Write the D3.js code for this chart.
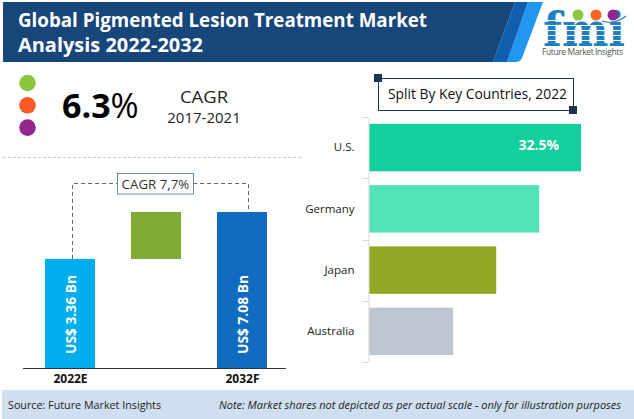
<!DOCTYPE html>
<html>
<head>
<meta charset="utf-8">
<script src="https://cdn.jsdelivr.net/npm/d3@7"></script>
<style>
  html, body { margin: 0; padding: 0; background: #fff; }
  svg { display: block; }
  text { font-family: 'Open Sans', sans-serif; }
</style>
</head>
<body>
<script>
const titleLines = ['Global Pigmented Lesion Treatment Market', 'Analysis 2022-2032'];
const titleLengths = [409, 185];

// market size bars, heights (not to scale with the labels)
const marketYears = ['2022E', '2032F'];
const marketHeights = [4.95, 7.08];
const marketLabels = ['US$ 3.36 Bn', 'US$ 7.08 Bn'];
const marketColors = ['#00aeef', '#0f6cc0'];

// countries split
const countries = ['U.S.', 'Germany', 'Japan', 'Australia'];
const countryShares = [32.5, 26.1, 19.5, 12.9];
const countryColors = ['#12d09b', '#54e2b7', '#90a823', '#bfc6d2'];

const dotColors = ['#8cc63f', '#ff5a26', '#93278f'];

const width = 634;
const height = 419;

const svg = d3.select('body').append('svg')
  .attr('width', width)
  .attr('height', height);

// HEADER
svg.append('path').attr('d', 'M528,2 L543,2 L522,58 Q520,62 516,62 L507,62 Z').attr('fill', '#2196ee');
svg.append('path').attr('d', 'M515,2 L528,2 L507,62 L493,62 Z').attr('fill', '#0f5fae');
svg.append('path').attr('d', 'M3,2 L515,2 L493,62 L3,62 Z').attr('fill', '#17467a');

svg.selectAll('.title')
  .data(titleLines)
  .enter()
  .append('text')
  .attr('class', 'title')
  .attr('x', 18)
  .attr('y', (d, i) => 27 + i * 24.5)
  .attr('fill', '#fff')
  .attr('font-size', 19.5)
  .attr('font-weight', 700)
  .attr('textLength', (d, i) => titleLengths[i])
  .attr('lengthAdjust', 'spacingAndGlyphs')
  .text(d => d);

// LOGO
const logo = svg.append('g');
logo.append('text')
  .attr('x', 543)
  .attr('y', 46)
  .attr('fill', '#1f7fc0')
  .attr('font-size', 46)
  .attr('font-weight', 700)
  .attr('textLength', 82)
  .attr('lengthAdjust', 'spacingAndGlyphs')
  .style('font-family', "'DejaVu Serif', serif")
  .text('fmi');
[20, 25, 30, 35, 40].forEach(y => {
  logo.append('rect').attr('x', 540).attr('y', y).attr('width', 90).attr('height', 1).attr('fill', '#fff');
});
logo.append('path')
  .attr('d', 'M602,21 Q615,25 626,16')
  .attr('fill', 'none')
  .attr('stroke', '#1f7fc0')
  .attr('stroke-width', 1.2);
[[578, '#8cc63f'], [596, '#f26522'], [613, '#93278f']].forEach(d => {
  logo.append('circle').attr('cx', d[0]).attr('cy', 15).attr('r', 5.5).attr('fill', d[1]);
});
logo.append('text')
  .attr('x', 542)
  .attr('y', 55)
  .attr('fill', '#555')
  .attr('font-size', 8.5)
  .attr('textLength', 81)
  .text('Future Market Insights');

// CAGR BLOCK
svg.selectAll('.dot')
  .data(dotColors)
  .enter()
  .append('circle')
  .attr('class', 'dot')
  .attr('cx', 27.5)
  .attr('cy', (d, i) => 83 + i * 22.3)
  .attr('r', 8.3)
  .attr('fill', d => d);

const bigNumber = svg.append('text')
  .attr('x', 62)
  .attr('y', 118)
  .attr('font-size', 34)
  .attr('font-weight', 700)
  .attr('fill', '#000');
bigNumber.append('tspan').text('6.3');
bigNumber.append('tspan').attr('font-weight', 400).text('%');

svg.append('text').attr('x', 204).attr('y', 103).attr('text-anchor', 'middle')
  .attr('font-size', 17).attr('fill', '#222')
  .attr('textLength', 48).attr('lengthAdjust', 'spacingAndGlyphs').text('CAGR');
svg.append('text').attr('x', 204).attr('y', 123).attr('text-anchor', 'middle')
  .attr('font-size', 15).attr('fill', '#222').text('2017-2021');

svg.append('line')
  .attr('x1', 3).attr('x2', 303).attr('y1', 157.5).attr('y2', 157.5)
  .attr('stroke', '#ccc').attr('stroke-dasharray', '3,2');

// LEFT CHART
const xMarket = d3.scalePoint().domain(marketYears).range([70, 242]);
const yMarket = d3.scaleLinear().domain([0, 7.08]).range([368, 212]);
const barW = 50;

svg.selectAll('.market')
  .data(marketHeights)
  .enter()
  .append('rect')
  .attr('class', 'market')
  .attr('x', (d, i) => xMarket(marketYears[i]) - barW / 2)
  .attr('y', d => yMarket(d))
  .attr('width', barW)
  .attr('height', d => yMarket(0) - yMarket(d))
  .attr('fill', (d, i) => marketColors[i]);

// floating difference block between the two bars
svg.append('rect')
  .attr('x', (xMarket(marketYears[0]) + xMarket(marketYears[1])) / 2 - barW / 2)
  .attr('y', yMarket(marketHeights[1]))
  .attr('width', barW)
  .attr('height', yMarket(marketHeights[0]) - yMarket(marketHeights[1]))
  .attr('fill', '#7faa33');

svg.selectAll('.marketLabel')
  .data(marketLabels)
  .enter()
  .append('text')
  .attr('class', 'marketLabel')
  .attr('transform', (d, i) => `translate(${xMarket(marketYears[i]) + 6},354) rotate(-90)`)
  .attr('fill', '#fff')
  .attr('font-size', 14.5)
  .attr('font-weight', 700)
  .attr('textLength', 79)
  .attr('lengthAdjust', 'spacingAndGlyphs')
  .text(d => d);

const xAxisMarket = d3.axisBottom(xMarket).tickSize(0).tickPadding(6);
const gMarket = svg.append('g')
  .attr('transform', 'translate(0,368.5)')
  .call(xAxisMarket);
gMarket.select('.domain').attr('d', 'M23,0H286').attr('stroke', '#333').attr('stroke-width', 1);
gMarket.selectAll('text')
  .attr('font-size', 12)
  .attr('font-weight', 700)
  .attr('fill', '#111')
  .style('font-family', "'Open Sans', sans-serif");

// dashed connector
const connX = [xMarket(marketYears[0]) + 2.5, xMarket(marketYears[1]) + 6.5];
svg.append('path')
  .attr('d', `M${connX[0]},${yMarket(marketHeights[0])}V183.5H${connX[1]}V${yMarket(marketHeights[1])}`)
  .attr('fill', 'none')
  .attr('stroke', '#666')
  .attr('stroke-dasharray', '4,3');

svg.append('rect')
  .attr('x', 117.5).attr('y', 173.5).attr('width', 76).attr('height', 20.5)
  .attr('fill', '#fff').attr('stroke', '#6a93ad');
svg.append('text')
  .attr('x', 155.5).attr('y', 188.5).attr('text-anchor', 'middle')
  .attr('font-size', 13.3).attr('fill', '#333').text('CAGR 7,7%');

// RIGHT CHART
svg.append('rect')
  .attr('x', 378.5).attr('y', 78.5).attr('width', 195).attr('height', 32)
  .attr('fill', '#fff').attr('stroke', '#1d3550');
svg.append('rect').attr('x', 374).attr('y', 74).attr('width', 8).attr('height', 8).attr('fill', '#1d3550');
svg.append('rect').attr('x', 569).attr('y', 106).attr('width', 8).attr('height', 8).attr('fill', '#1d3550');
svg.append('text')
  .attr('x', 388).attr('y', 99)
  .attr('font-size', 14).attr('fill', '#111')
  .attr('textLength', 179).attr('lengthAdjust', 'spacingAndGlyphs')
  .text('Split By Key Countries, 2022');

const xCountry = d3.scaleLinear().domain([0, 32.5]).range([369, 581]);
const yCountry = d3.scaleBand().domain(countries).range([117, 362]).paddingInner(0.225).paddingOuter(0.1125);

svg.selectAll('.country')
  .data(countryShares)
  .enter()
  .append('rect')
  .attr('class', 'country')
  .attr('x', xCountry(0))
  .attr('y', (d, i) => yCountry(countries[i]))
  .attr('width', d => xCountry(d) - xCountry(0))
  .attr('height', yCountry.bandwidth())
  .attr('fill', (d, i) => countryColors[i]);

const yAxisCountry = d3.axisLeft(yCountry).tickSize(0).tickPadding(14);
const gCountry = svg.append('g')
  .attr('transform', 'translate(368.5,0)')
  .call(yAxisCountry);
gCountry.select('.domain').attr('stroke', '#d9d9d9');
gCountry.selectAll('text')
  .attr('font-size', 11.5)
  .attr('fill', '#222')
  .style('font-family', "'Open Sans', sans-serif");

// ticks sit between the bands
d3.range(countries.length + 1).forEach(i => {
  const y = Math.round(117 + i * yCountry.step()) + 0.5;
  gCountry.append('line').attr('x1', -6).attr('x2', 0).attr('y1', y).attr('y2', y).attr('stroke', '#d9d9d9');
});

svg.append('text')
  .attr('x', xCountry(countryShares[0]) - 22)
  .attr('y', yCountry(countries[0]) + 26)
  .attr('text-anchor', 'end')
  .attr('fill', '#fff')
  .attr('font-size', 14)
  .attr('font-weight', 700)
  .text('32.5%');

// FOOTER
svg.append('rect').attr('x', 2).attr('y', 390).attr('width', 632).attr('height', 29).attr('fill', '#cfdff0');
svg.append('text').attr('x', 8).attr('y', 409)
  .attr('font-size', 11.5).attr('fill', '#222')
  .attr('textLength', 153).attr('lengthAdjust', 'spacingAndGlyphs')
  .text('Source: Future Market Insights');
svg.append('text').attr('x', 219).attr('y', 409)
  .attr('font-size', 11.3).attr('font-style', 'italic').attr('fill', '#222')
  .attr('textLength', 402).attr('lengthAdjust', 'spacingAndGlyphs')
  .text('Note: Market shares not depicted as per actual scale - only for illustration purposes');
</script>
</body>
</html>
